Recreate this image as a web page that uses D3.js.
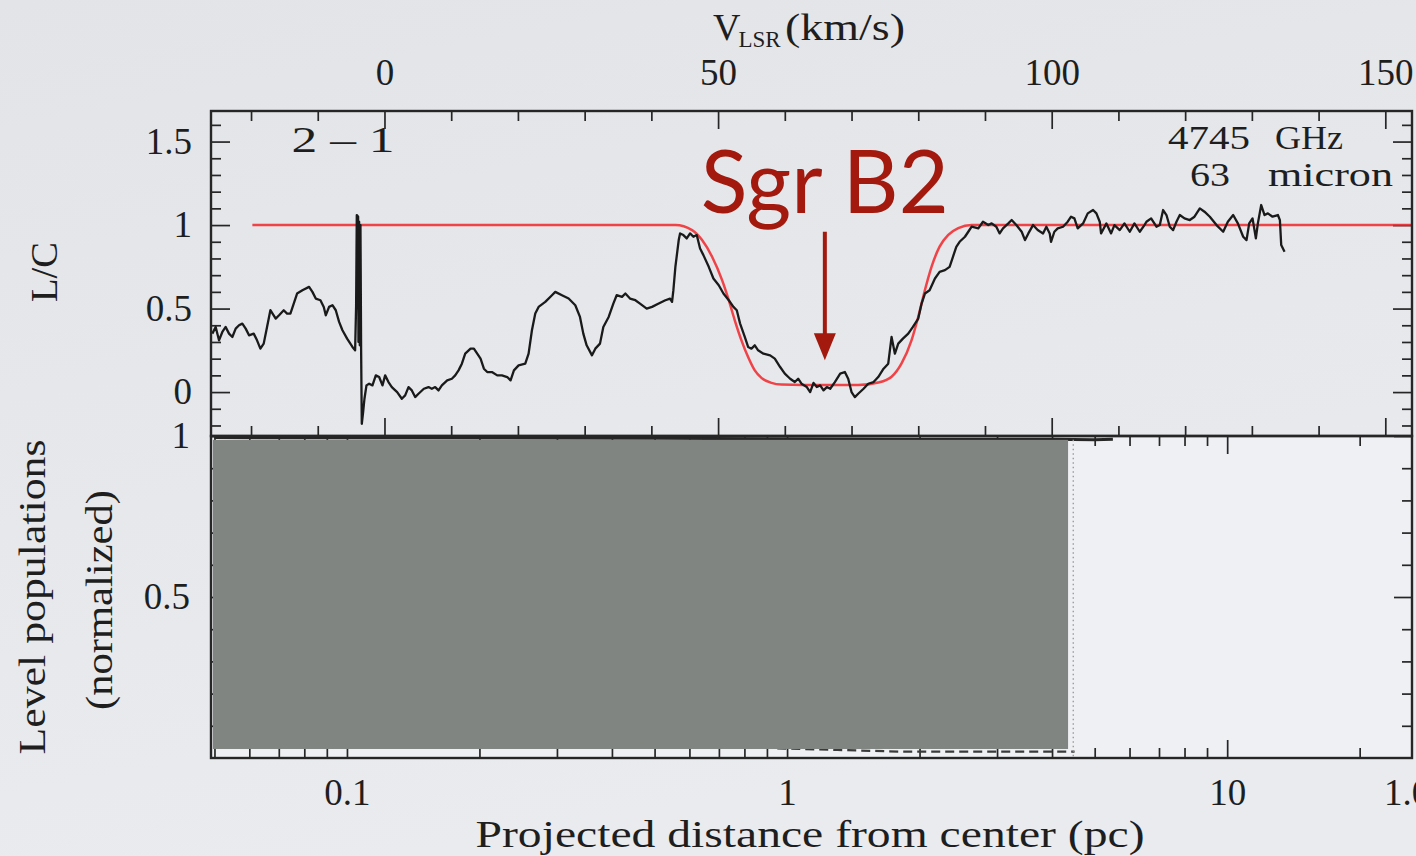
<!DOCTYPE html>
<html>
<head>
<meta charset="utf-8">
<script src="https://cdn.jsdelivr.net/npm/d3@7"></script>
<style>
  html, body { margin: 0; padding: 0; background: #e4e6e9; }
  svg { display: block; }
</style>
</head>
<body>
<svg id="chart" width="1416" height="856"></svg>
<script>
// ---- Data -------------------------------------------------------------
// OI 2-1 (63 micron) absorption spectrum toward Sgr B2, line-to-continuum ratio
const spectrumVelocity = [
  -25.8,-25.3,-24.8,-24.3,-23.8,-23.3,-22.8,-22.3,-21.8,-21.3,-20.8,-20.3,-19.6,-19.1,-18.6,-18.1,
  -17.6,-17.1,-16.3,-15.8,-15.1,-14.6,-14.1,-13.6,-13.1,-12.3,-11.3,-10.8,-10.3,-9.6,-9.1,-8.8,
  -8.3,-7.8,-7.3,-6.8,-6.3,-5.6,-4.8,-4.4,
  -4.25,-4.15,-3.95,-3.9,-3.8,-3.7,-3.6,-3.5,-3.4,-3.2,-3.0,
  -2.7,-2.3,-1.8,-1.3,-0.8,-0.3,0.1,0.6,1.1,1.9,2.6,3.1,3.6,4.1,4.6,5.1,5.9,6.6,7.1,7.6,8.1,8.6,
  9.4,10.1,10.6,11.1,11.6,12.1,12.9,13.4,13.9,14.4,14.9,15.4,16.1,16.9,17.6,18.4,18.9,19.4,20.1,21.1,
  21.6,22.1,22.6,23.1,24.1,25.1,25.6,26.6,27.6,28.6,29.3,29.8,30.3,31.1,31.6,32.3,32.8,33.6,34.3,
  34.8,35.6,36.1,36.8,37.6,38.3,39.3,40.1,41.1,42.1,42.8,43.1,43.3,43.6,44.1,44.3,44.8,45.3,45.8,
  46.3,46.8,47.3,47.8,48.6,49.3,50.1,50.8,51.6,52.3,52.8,53.3,54.0,54.5,55.0,55.5,56.0,56.8,57.8,
  58.5,59.3,60.0,60.8,61.5,62.0,62.5,63.3,63.8,64.3,64.8,65.3,65.8,66.3,66.8,67.5,68.3,69.0,69.5,
  70.0,70.5,71.0,71.8,72.5,73.3,74.0,74.8,75.5,76.0,76.5,77.0,77.7,78.5,79.2,80.0,80.5,81.0,81.7,
  82.5,83.2,84.0,84.7,85.2,85.7,86.2,87.0,87.5,88.0,89.0,89.7,90.5,91.0,91.7,92.2,92.7,93.5,94.0,
  94.7,95.5,96.0,96.5,97.2,97.9,98.7,99.2,99.7,99.9,100.4,100.9,101.7,102.4,102.9,103.4,103.9,104.7,
  105.4,106.2,106.7,107.2,107.4,108.2,108.9,109.4,110.2,110.9,111.7,112.4,113.2,113.9,114.2,114.9,
  115.7,116.2,116.7,117.2,117.7,118.2,118.7,119.2,119.9,120.7,121.4,122.2,122.9,123.7,124.7,125.7,
  126.4,127.2,127.9,128.7,129.2,129.6,130.1,130.6,130.9,131.4,131.9,132.4,133.1,133.9,134.2,134.4,134.9
];
const spectrumRatio = [
  0.35,0.39,0.31,0.36,0.39,0.35,0.33,0.38,0.40,0.41,0.38,0.34,0.35,0.31,0.26,0.29,
  0.39,0.49,0.44,0.46,0.49,0.47,0.47,0.53,0.59,0.61,0.63,0.60,0.56,0.55,0.51,0.46,
  0.51,0.52,0.49,0.42,0.37,0.32,0.27,0.25,
  0.52,1.06,1.05,0.30,1.02,0.28,1.00,0.25,-0.19,-0.12,-0.04,
  0.04,0.05,0.04,0.10,0.09,0.04,0.10,0.06,0.03,0.00,-0.04,-0.02,0.03,0.01,-0.03,-0.01,0.02,0.03,0.02,0.03,0.01,0.04,
  0.07,0.08,0.10,0.13,0.17,0.23,0.26,0.26,0.23,0.20,0.14,0.12,0.12,0.10,0.10,0.09,0.07,0.13,0.16,0.17,
  0.23,0.37,0.47,0.51,0.54,0.58,0.60,0.58,0.56,0.52,0.45,0.35,0.28,0.22,0.26,0.29,0.39,0.45,0.53,
  0.58,0.57,0.59,0.56,0.55,0.53,0.50,0.51,0.53,0.55,0.56,0.54,0.61,0.75,0.91,0.95,0.94,0.92,0.95,
  0.93,0.94,0.86,0.82,0.75,0.68,0.64,0.59,0.55,0.51,0.49,0.41,0.33,0.27,0.26,0.28,0.25,0.23,0.22,
  0.20,0.15,0.11,0.08,0.06,0.08,0.05,0.03,0.00,0.055,0.03,0.04,0.01,0.03,0.02,0.06,0.11,0.12,0.08,
  0.00,-0.03,-0.01,0.02,0.05,0.06,0.09,0.14,0.17,0.33,0.23,0.29,0.32,0.35,0.39,0.44,0.53,0.59,0.61,
  0.68,0.72,0.73,0.75,0.81,0.87,0.90,0.93,0.96,0.99,0.98,1.02,1.00,1.01,0.99,0.95,0.98,1.01,1.03,
  1.00,0.96,0.91,0.95,1.00,0.97,0.95,0.99,0.95,0.90,0.96,0.98,0.99,1.02,1.05,1.04,0.98,1.01,
  1.07,1.09,1.07,1.02,0.95,1.01,0.95,1.00,0.97,1.01,0.96,1.01,0.96,1.00,1.02,1.04,
  0.99,1.00,1.09,1.06,0.99,0.97,1.02,1.06,1.04,1.03,1.05,1.10,1.08,1.05,1.00,0.96,
  1.02,1.06,1.01,0.93,0.91,1.01,1.04,0.92,1.01,1.12,1.06,1.07,1.05,1.06,1.03,0.88,0.84
];
// Model absorption profile
const modelVelocity = [-19.8, 43.6, 46.1, 47.6, 49.1, 50.6, 51.6, 52.5, 53.5, 54.5, 55.5, 56.5, 58.0, 59.5,
  66.0, 71.0, 74.0, 76.0, 77.5, 79.0, 80.0, 81.0, 82.0, 83.2, 84.5, 86.0, 88.0, 154.0];
const modelRatio = [1.0, 1.0, 0.97, 0.91, 0.81, 0.67, 0.55, 0.43, 0.31, 0.21, 0.13, 0.085, 0.055, 0.045,
  0.042, 0.042, 0.057, 0.092, 0.172, 0.311, 0.451, 0.611, 0.751, 0.871, 0.941, 0.981, 1.0, 1.0];

// Level populations vs projected distance (pc): the parts left uncovered
const upperDistance = [0.05, 0.5, 2.0, 4.0, 5.0, 5.5];
const upperPopulation = [0.995, 0.993, 0.99, 0.99, 0.988, 0.99];
const lowerDistance = [0.95, 1.3, 1.8, 2.5, 3.2, 4.0, 4.5];
const lowerPopulation = [0.03, 0.025, 0.02, 0.02, 0.02, 0.02, 0.02];
const maskDistance = [0.0496, 4.35];
const maskPopulation = [0.028, 0.988];
const cutoffDistance = 4.47;

// Axis ticks and labels
const velocityTicks = [0, 50, 100, 150];
const ratioTicks = [0, 0.5, 1, 1.5];
const populationTicks = [0.5, 1];
const distanceTicks = [0.1, 1, 10];
const transitionLabel = "2 – 1";
const frequencyLabel = ["4745", "GHz"];
const wavelengthLabel = ["63", "micron"];
const sourceLabel = "Sgr B2";
const arrowVelocity = 66;
const arrowRatio = [0.96, 0.19];

(function draw() {
// ---- Layout -----------------------------------------------------------
const svg = d3.select("#chart");
const ink = "#262626";
const serif = "'Liberation Serif', 'Times New Roman', serif";
const accent = "#a3190e";
const labelSize = 37;

const xV = d3.scaleLinear().domain([-26, 154]).range([211, 1412]);
const yR = d3.scaleLinear().domain([-0.263, 1.683]).range([436, 111]);
const xD = d3.scaleLog().domain([0.0491, 26.3]).range([211, 1412]);
const yP = d3.scaleLinear().domain([0, 1]).range([758, 436]);

const pLeft = 211, pRight = 1412, pTop = 111, pMid = 436, pBottom = 758;

// background
const defs = svg.append("defs");
const grad = defs.append("linearGradient").attr("id", "bg").attr("x1", 0).attr("y1", 0).attr("x2", 0.3).attr("y2", 1);
grad.append("stop").attr("offset", "0%").attr("stop-color", "#e2e4e7");
grad.append("stop").attr("offset", "100%").attr("stop-color", "#e9ebee");
svg.append("rect").attr("width", 1416).attr("height", 856).attr("fill", "url(#bg)");

defs.append("clipPath").attr("id", "topClip").append("rect")
  .attr("x", pLeft).attr("y", pTop).attr("width", pRight - pLeft).attr("height", pMid - pTop);

// lower panel background
svg.append("rect").attr("x", pLeft).attr("y", pMid).attr("width", pRight - pLeft).attr("height", pBottom - pMid)
  .attr("fill", "#eff0f3");

// ---- Tick marks -------------------------------------------------------
function tickSet(axisFn, scale, values, size, transform) {
  const g = svg.append("g").attr("transform", transform)
    .call(axisFn(scale).tickValues(values).tickSize(size).tickSizeOuter(0).tickFormat(""));
  g.select(".domain").remove();
  g.selectAll("line").attr("stroke", ink).attr("stroke-width", 1.7);
  return g;
}
const round = v => Math.round(v * 1000) / 1000;
const vMinor = d3.range(-20, 151, 10).filter(v => !velocityTicks.includes(v));
const rMinor = d3.range(-2, 17, 1).map(v => round(v / 10)).filter(v => !ratioTicks.includes(v));
const pMinor = d3.range(1, 10, 1).map(v => round(v / 10)).filter(v => !populationTicks.includes(v));
const dAll = xD.ticks().filter(v => v >= xD.domain()[0] && v <= xD.domain()[1]);
const dMinor = dAll.filter(v => !distanceTicks.some(t => Math.abs(t - v) < 1e-9));

// upper panel
tickSet(d3.axisBottom, xV, vMinor, 10, `translate(0,${pTop})`);
tickSet(d3.axisBottom, xV, velocityTicks, 18, `translate(0,${pTop})`);
tickSet(d3.axisTop, xV, vMinor, 10, `translate(0,${pMid})`);
tickSet(d3.axisTop, xV, velocityTicks, 18, `translate(0,${pMid})`);
tickSet(d3.axisRight, yR, rMinor, 10, `translate(${pLeft},0)`);
tickSet(d3.axisRight, yR, ratioTicks, 19, `translate(${pLeft},0)`);
tickSet(d3.axisLeft, yR, rMinor, 10, `translate(${pRight},0)`);
tickSet(d3.axisLeft, yR, ratioTicks, 19, `translate(${pRight},0)`);

// lower panel
tickSet(d3.axisBottom, xD, dMinor, 10, `translate(0,${pMid})`);
tickSet(d3.axisBottom, xD, distanceTicks, 18, `translate(0,${pMid})`);
tickSet(d3.axisTop, xD, dMinor, 10, `translate(0,${pBottom})`);
tickSet(d3.axisTop, xD, distanceTicks, 18, `translate(0,${pBottom})`);
tickSet(d3.axisRight, yP, pMinor, 10, `translate(${pLeft},0)`);
tickSet(d3.axisRight, yP, populationTicks, 18, `translate(${pLeft},0)`);
tickSet(d3.axisLeft, yP, pMinor, 10, `translate(${pRight},0)`);
tickSet(d3.axisLeft, yP, populationTicks, 18, `translate(${pRight},0)`);

// ---- Upper panel: spectrum and model ----------------------------------
const plotTop = svg.append("g").attr("clip-path", "url(#topClip)");

plotTop.append("path")
  .datum(d3.zip(modelVelocity, modelRatio))
  .attr("fill", "none").attr("stroke", "#f2262a").attr("stroke-opacity", 0.85).attr("stroke-width", 2.5)
  .attr("d", d3.line().x(d => xV(d[0])).y(d => yR(d[1])).curve(d3.curveMonotoneX));

plotTop.append("path")
  .datum(d3.zip(spectrumVelocity, spectrumRatio))
  .attr("fill", "none").attr("stroke", "#1a1a1a").attr("stroke-width", 2.3)
  .attr("stroke-linejoin", "round")
  .attr("d", d3.line().x(d => xV(d[0])).y(d => yR(d[1])));

// ---- Lower panel -------------------------------------------------------
svg.append("path")
  .datum(d3.zip(upperDistance, upperPopulation))
  .attr("fill", "none").attr("stroke", ink).attr("stroke-width", 3)
  .attr("d", d3.line().x(d => xD(d[0])).y(d => yP(d[1])));
svg.append("path")
  .datum(d3.zip(lowerDistance, lowerPopulation))
  .attr("fill", "none").attr("stroke", "#3a3a3a").attr("stroke-width", 2.2)
  .attr("stroke-dasharray", "9 5")
  .attr("d", d3.line().x(d => xD(d[0])).y(d => yP(d[1])));

svg.append("line")
  .attr("x1", xD(cutoffDistance)).attr("x2", xD(cutoffDistance))
  .attr("y1", yP(maskPopulation[1])).attr("y2", pBottom)
  .attr("stroke", "#9c9c9c").attr("stroke-width", 1.4).attr("stroke-dasharray", "1.5 3");

svg.append("rect")
  .attr("x", xD(maskDistance[0])).attr("y", yP(maskPopulation[1]))
  .attr("width", xD(maskDistance[1]) - xD(maskDistance[0]))
  .attr("height", yP(maskPopulation[0]) - yP(maskPopulation[1]))
  .attr("fill", "#808582");

// ---- Frames ------------------------------------------------------------
svg.append("rect").attr("x", pLeft).attr("y", pTop).attr("width", pRight - pLeft).attr("height", pMid - pTop)
  .attr("fill", "none").attr("stroke", ink).attr("stroke-width", 2.4);
svg.append("rect").attr("x", pLeft).attr("y", pMid).attr("width", pRight - pLeft).attr("height", pBottom - pMid)
  .attr("fill", "none").attr("stroke", ink).attr("stroke-width", 2.4);

// ---- Tick labels -------------------------------------------------------
function labelSet(axis, transform) {
  const g = svg.append("g").attr("transform", transform).call(axis);
  g.select(".domain").remove();
  g.selectAll("line").remove();
  g.selectAll("text").attr("font-family", serif).attr("font-size", labelSize).attr("fill", "#1e1e1e");
  return g;
}
labelSet(d3.axisTop(xV).tickValues(velocityTicks).tickSize(0).tickPadding(26).tickFormat(String),
  `translate(0,${pTop})`);
labelSet(d3.axisLeft(yR).tickValues(ratioTicks).tickSize(0).tickPadding(19).tickFormat(String),
  `translate(${pLeft},0)`);
labelSet(d3.axisLeft(yP).tickValues(populationTicks).tickSize(0).tickPadding(21).tickFormat(String),
  `translate(${pLeft},0)`);
labelSet(d3.axisBottom(xD).tickValues(distanceTicks).tickSize(0).tickPadding(21).tickFormat(String),
  `translate(0,${pBottom})`);

const txt = (x, y, s, opts = {}) => {
  const t = svg.append("text").attr("x", x).attr("y", y).text(s)
    .attr("font-family", opts.family || serif).attr("font-size", opts.size || labelSize)
    .attr("fill", opts.fill || "#1e1e1e").attr("text-anchor", opts.anchor || "start");
  if (opts.length) t.attr("textLength", opts.length).attr("lengthAdjust", "spacingAndGlyphs");
  if (opts.rotate) t.attr("transform", `rotate(-90,${x},${y})`);
  return t;
};

// trailing label at the right edge of the distance axis
txt(1384, 805, "1.0");

// axis titles
const vt = svg.append("text").attr("x", 713).attr("y", 40)
  .attr("font-family", serif).attr("font-size", 38).attr("fill", "#1e1e1e");
vt.append("tspan").text("V");
vt.append("tspan").attr("font-size", 23).attr("dy", 7).attr("dx", -2).text("LSR");
vt.append("tspan").attr("x", 785).attr("dy", -7).attr("textLength", 120)
  .attr("lengthAdjust", "spacingAndGlyphs").text("(km/s)");

txt(810, 847, "Projected distance from center (pc)", { anchor: "middle", length: 669 });
txt(57, 272, "L/C", { anchor: "middle", rotate: true, length: 60 });
txt(45, 597, "Level populations", { anchor: "middle", rotate: true, length: 315 });
txt(112, 600, "(normalized)", { anchor: "middle", rotate: true, length: 220 });

// panel annotations
txt(343, 152, transitionLabel, { anchor: "middle", length: 103, size: 36 });
txt(1168, 149, frequencyLabel[0], { length: 82, size: 33 });
txt(1275, 149, frequencyLabel[1], { length: 68, size: 33 });
txt(1190, 186, wavelengthLabel[0], { length: 40, size: 33 });
txt(1268, 186, wavelengthLabel[1], { length: 125, size: 33 });

// source marker
txt(xV(47.4), 213, sourceLabel, { family: "Lato, 'Noto Sans', sans-serif", size: 88, fill: accent, length: 248 });
const ax = xV(arrowVelocity);
svg.append("line").attr("x1", ax).attr("x2", ax)
  .attr("y1", yR(arrowRatio[0])).attr("y2", yR(arrowRatio[1]) - 20)
  .attr("stroke", accent).attr("stroke-width", 4);
svg.append("path")
  .attr("d", `M${ax - 11},${yR(arrowRatio[1]) - 27} L${ax + 11},${yR(arrowRatio[1]) - 27} L${ax},${yR(arrowRatio[1])} Z`)
  .attr("fill", accent);
})();
</script>
</body>
</html>
